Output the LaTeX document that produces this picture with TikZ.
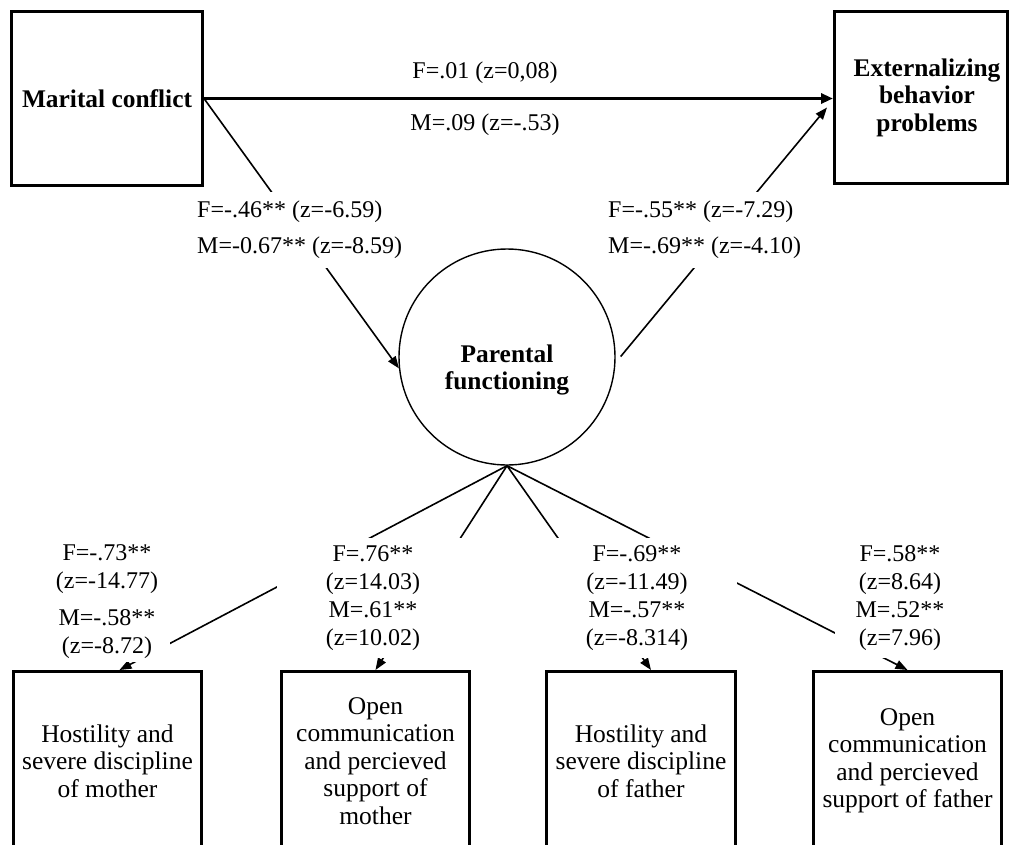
\documentclass[tikz,border=0pt]{standalone}
\usepackage{fontspec}
\setmainfont{Liberation Serif}
\usetikzlibrary{arrows.meta}
\begin{document}
\begin{tikzpicture}[x=1pt,y=-1pt,
  box/.style={draw, line width=3pt, rectangle, align=center, inner sep=0pt, font=\fontsize{25.5}{27.5}\selectfont},
  topbox/.style={box, font=\bfseries\fontsize{25.4}{27.5}\selectfont},
  lab/.style={font=\fontsize{24}{28}\selectfont, inner sep=0pt},
  mask/.style={lab, fill=white},
  conn/.style={line width=1.6pt, -{Triangle[length=12pt,width=9pt]}},
]
\useasboundingbox (0,0) rectangle (1012,844);
\clip (0,0) rectangle (1012,844);

% main nodes
\node[topbox, minimum width=191pt, minimum height=174pt] (mc) at (107,98.5) {Marital conflict};
\node[topbox, minimum width=173pt, minimum height=172pt] (ext) at (921,97.5) {\hspace*{12pt}Externalizing\\\hspace*{12pt}behavior\\\hspace*{12pt}problems};
\node[circle, draw, line width=1.4pt, minimum size=216pt, inner sep=0pt] (pf) at (507,357) {};
\node[font=\bfseries\fontsize{25.4}{27.5}\selectfont, align=center, inner sep=0pt] (pft) at ([yshift=-13pt]pf.center) {Parental\\functioning};

\node[box, minimum width=188pt, minimum height=179pt] (b1) at (107.5,761) {Hostility and\\severe discipline\\of mother};
\node[box, minimum width=188pt, minimum height=179pt] (b2) at (375.5,761) {Open\\communication\\and percieved\\support of\\mother};
\node[box, minimum width=189pt, minimum height=179pt] (b3) at (641,761) {Hostility and\\severe discipline\\of father};
\node[box, minimum width=188pt, minimum height=179pt] (b4) at (907.5,761) {Open\\communication\\and percieved\\support of father};

% connectors
\draw[line width=3pt, -{Triangle[length=12pt,width=10pt]}] (mc.east) -- (mc.east -| ext.west);
\draw[conn] (mc.east) -- (pf.186.6);
\draw[conn, shorten <=8pt] (pf.-3) -- ([xshift=-6pt,yshift=-10pt]ext.west);
\draw[conn] (pf.south) -- ([xshift=12pt]b1.north);
\draw[conn] (pf.south) -- (b2.north);
\draw[conn] (pf.south) -- ([xshift=10pt]b3.north);
\draw[conn] (pf.south) -- (b4.north);

% labels
\node[lab] (lf) at (485,73) {F=.01 (z=0,08)};
\node[lab] (lm) at (485,125) {M=.09 (z=-.53)};
\node[mask, align=left, inner xsep=4pt, minimum height=76pt, anchor=west] (lmc) at (193,230) {F=-.46** (z=-6.59)\\[8pt]M=-0.67** (z=-8.59)};
\node[mask, align=left, inner xsep=4pt, minimum height=76pt, anchor=west] (lext) at (604,230) {F=-.55** (z=-7.29)\\[8pt]M=-.69** (z=-4.10)};

\node[mask, align=center, minimum width=126pt, minimum height=120pt] (l1) at (107,602) {F=-.73**\\(z=-14.77)\\[9pt]M=-.58**\\(z=-8.72)};
\node[mask, align=center, minimum width=192pt, minimum height=120pt] (l2) at (373,598) {F=.76**\\(z=14.03)\\M=.61**\\(z=10.02)};
\node[mask, align=center, minimum width=200pt, minimum height=120pt] (l3) at (637,598) {F=-.69**\\(z=-11.49)\\M=-.57**\\(z=-8.314)};
\node[mask, align=center, minimum width=130pt, minimum height=120pt] (l4) at (900,598) {F=.58**\\(z=8.64)\\M=.52**\\(z=7.96)};
\end{tikzpicture}
\end{document}
